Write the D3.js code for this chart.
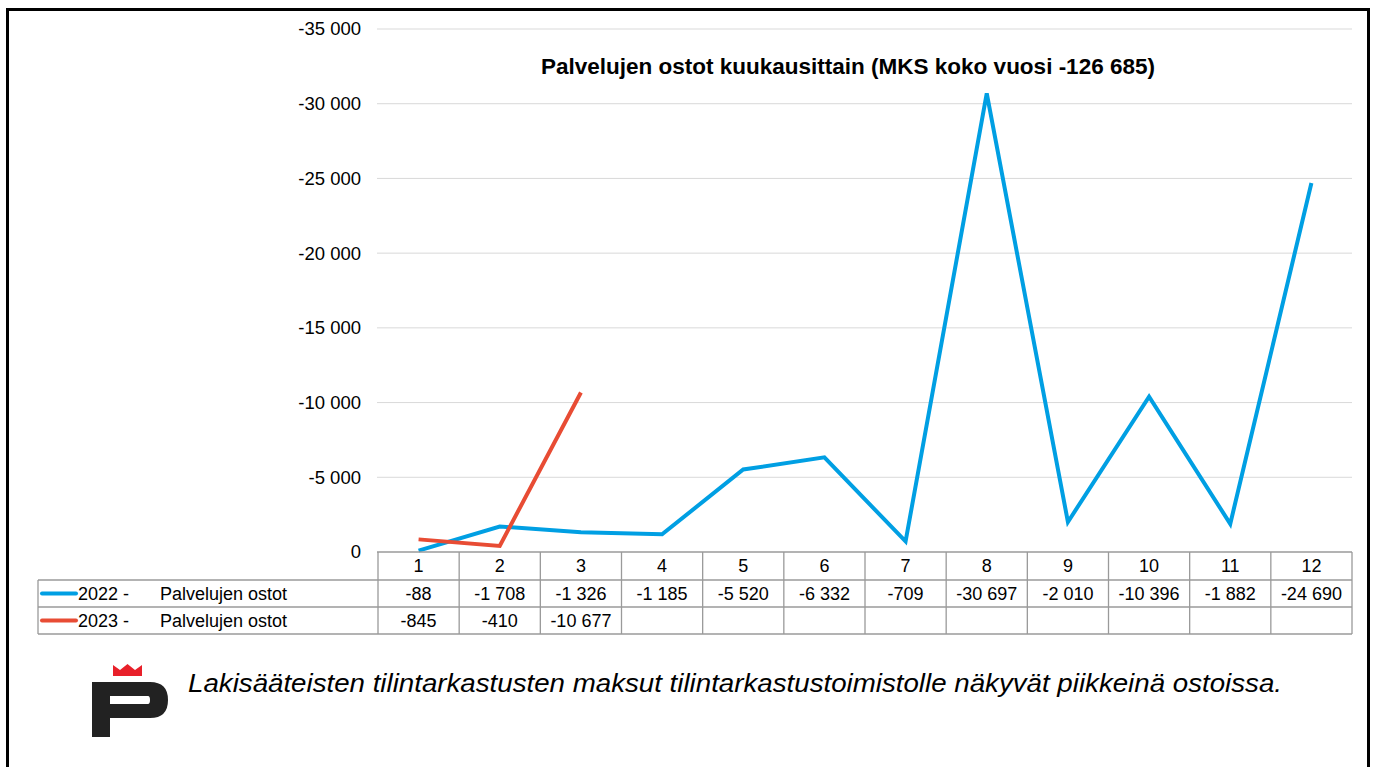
<!DOCTYPE html>
<html>
<head>
<meta charset="utf-8">
<script src="https://cdn.jsdelivr.net/npm/d3@7"></script>
<style>
  body { margin: 0; background: #fff; }
  text { font-family: "Liberation Sans", Arial, sans-serif; }
</style>
</head>
<body>
<script>

var months = [1, 2, 3, 4, 5, 6, 7, 8, 9, 10, 11, 12];
var values2022 = [-88, -1708, -1326, -1185, -5520, -6332, -709, -30697, -2010, -10396, -1882, -24690];
var values2023 = [-845, -410, -10677];
var yTicks = [0, -5000, -10000, -15000, -20000, -25000, -30000, -35000];
var seriesNames = ["2022 -", "2023 -"];
var seriesLabel = "Palvelujen ostot";
var seriesColors = ["#009fe3", "#e84c34"];
var title = "Palvelujen ostot kuukausittain (MKS koko vuosi -126 685)";
var note = "Lakisääteisten tilintarkastusten maksut tilintarkastustoimistolle näkyvät piikkeinä ostoissa.";

var width = 1375,
    height = 767;

var locale = d3.formatLocale({ decimal: ",", thousands: " ", grouping: [3], currency: ["", ""], minus: "-" });
var fmt = locale.format(",d");

var x = d3.scaleBand()
    .domain(months)
    .range([378, 1352]);

var y = d3.scaleLinear()
    .domain([0, -35000])
    .range([552, 29]);

var svg = d3.select("body").append("svg")
    .attr("width", width)
    .attr("height", height);

// outer frame
svg.append("rect")
    .attr("x", 7.5).attr("y", 9.5)
    .attr("width", 1361).attr("height", 780)
    .attr("fill", "none")
    .attr("stroke", "#000")
    .attr("stroke-width", 3);

// grid
svg.append("g").selectAll("line")
    .data(yTicks.slice(1))
    .enter().append("line")
        .attr("x1", 377).attr("x2", 1352)
        .attr("y1", function(d) { return y(d); })
        .attr("y2", function(d) { return y(d); })
        .attr("stroke", "#d9d9d9")
        .attr("stroke-width", 1);

svg.append("g").selectAll("text")
    .data(yTicks)
    .enter().append("text")
        .attr("x", 361)
        .attr("y", function(d) { return y(d); })
        .attr("dy", "0.35em")
        .attr("text-anchor", "end")
        .attr("font-size", "18.5px")
        .attr("fill", "#000")
        .text(function(d) { return fmt(d); });

svg.append("text")
    .attr("x", 848).attr("y", 74)
    .attr("text-anchor", "middle")
    .attr("font-size", "22.5px")
    .attr("font-weight", "bold")
    .text(title);

// lines
var line = d3.line()
    .x(function(d, i) { return x(months[i]) + x.bandwidth() / 2; })
    .y(function(d) { return y(d); });

[values2022, values2023].forEach(function(vals, i) {
    svg.append("path")
        .datum(vals)
        .attr("d", line)
        .attr("fill", "none")
        .attr("stroke", seriesColors[i])
        .attr("stroke-width", 4)
        .attr("stroke-linejoin", "miter");
});

// data table
var rowTop = [552, 580, 607],
    rowH = [28, 27, 27],
    tableLeft = 38,
    gridColor = "#9a9a9a";

var table = svg.append("g")
    .attr("stroke", gridColor)
    .attr("stroke-width", 1.3);

// horizontal lines
table.append("line").attr("x1", 377).attr("x2", 1352).attr("y1", 552).attr("y2", 552);
[580, 607, 634].forEach(function(yy) {
    table.append("line").attr("x1", tableLeft).attr("x2", 1352).attr("y1", yy).attr("y2", yy);
});
// vertical lines
table.append("line").attr("x1", tableLeft).attr("x2", tableLeft).attr("y1", 580).attr("y2", 634);
months.forEach(function(m) {
    table.append("line")
        .attr("x1", x(m)).attr("x2", x(m))
        .attr("y1", 552).attr("y2", 634);
});
table.append("line").attr("x1", 1352).attr("x2", 1352).attr("y1", 552).attr("y2", 634);

svg.append("g").selectAll("text")
    .data(months)
    .enter().append("text")
        .attr("x", function(d) { return x(d) + x.bandwidth() / 2; })
        .attr("y", 566)
        .attr("dy", "0.35em")
        .attr("text-anchor", "middle")
        .attr("font-size", "18px")
        .text(function(d) { return d; });

[values2022, values2023].forEach(function(vals, i) {
    var cy = rowTop[i + 1] + rowH[i + 1] / 2;
    var row = svg.append("g");
    row.selectAll("text")
        .data(vals)
        .enter().append("text")
            .attr("x", function(d, j) { return x(months[j]) + x.bandwidth() / 2; })
            .attr("y", cy)
            .attr("dy", "0.35em")
            .attr("text-anchor", "middle")
            .attr("font-size", "18px")
            .text(function(d) { return fmt(d); });
    row.append("line")
        .attr("x1", 42).attr("x2", 76)
        .attr("y1", cy).attr("y2", cy)
        .attr("stroke", seriesColors[i])
        .attr("stroke-width", 4)
        .attr("stroke-linecap", "round");
    row.append("text")
        .attr("x", 78).attr("y", cy).attr("dy", "0.35em")
        .attr("font-size", "18px")
        .text(seriesNames[i]);
    row.append("text")
        .attr("x", 160).attr("y", cy).attr("dy", "0.35em")
        .attr("font-size", "18px")
        .text(seriesLabel);
});

// logo
var logo = svg.append("g");
logo.append("path")
    .attr("d", "M113,665 L120,670 L127.5,664 L135,670 L142,665 L142,676 L113,676 Z")
    .attr("fill", "#e8202a");
logo.append("path")
    .attr("d", "M92,682 L150,682 Q168,682 168,700 Q168,718 150,718 L110,718 L110,737 L92,737 Z M110,696 L110,704 L148,704 Q150,704 150,700 Q150,696 148,696 Z")
    .attr("fill", "#222")
    .attr("fill-rule", "evenodd");

svg.append("text")
    .attr("x", 188).attr("y", 692)
    .attr("font-family", "'Open Sans', sans-serif")
    .attr("font-style", "italic")
    .attr("font-size", "25px")
    .attr("textLength", 1094)
    .attr("lengthAdjust", "spacingAndGlyphs")
    .text(note);

</script>
</body>
</html>
